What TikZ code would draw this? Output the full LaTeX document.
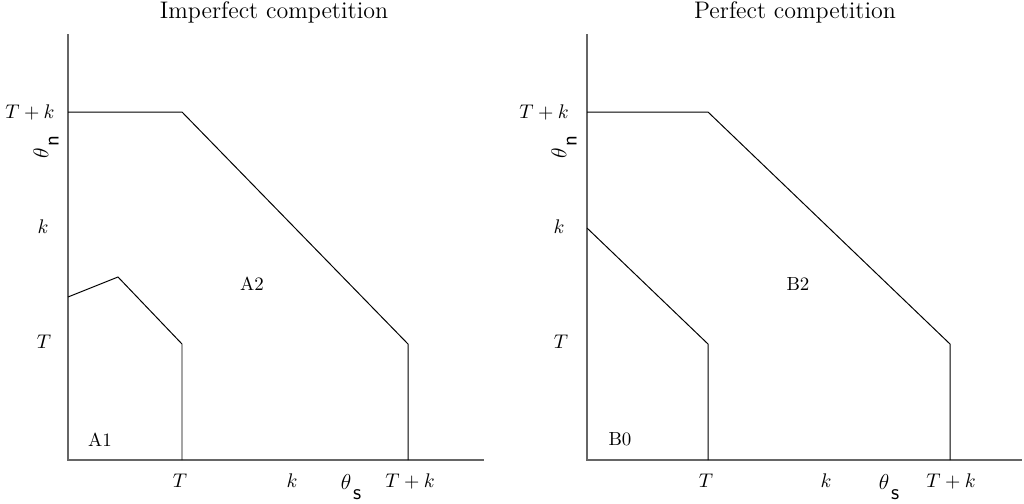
\documentclass[tikz,border=0pt]{standalone}
\begin{document}
\begin{tikzpicture}[x=0.555pt,y=-0.555pt,
  axis/.style={draw=black!60,line width=0.6pt},
  region/.style={draw=black,line width=0.55pt,line join=miter},
  lbl/.style={inner sep=0pt,font=\fontsize{10.5}{12}\selectfont},
  thl/.style={inner sep=0pt,font=\large},
  ttl/.style={inner sep=0pt,font=\fontsize{13.3}{16}\selectfont}]
\useasboundingbox (0,0) rectangle (1024,503);
% ---------- left panel ----------
\coordinate (lO) at (68,460);
\coordinate (lY) at (68,34);
\coordinate (lX) at (484,460);
\draw[axis] (lY) -- (lO) -- (lX);
\coordinate (la) at (68,112);
\coordinate (lb) at (182,112);
\coordinate (lc) at (408,344);
\coordinate (ld) at (408,460);
\draw[region] (la) -- (lb) -- (lc) -- (ld);
\coordinate (le) at (68,297);
\coordinate (lf) at (118,277);
\coordinate (lg) at (182,344);
\coordinate (lh) at (182,460);
\draw[region] (le) -- (lf) -- (lg) -- (lh);
\node[ttl] (lt) at (274,12) {Imperfect competition};
\node[lbl] (lyTk) at (30,112) {$T+k$};
\node[thl,rotate=90] (lyth) at (46,147) {$\theta$\kern1pt\raisebox{-1.1ex}{\sffamily n}};
\node[lbl] (lyk) at (43,227) {$k$};
\node[lbl] (lyT) at (44,342) {$T$};
\node[lbl] (lxT) at (180,481) {$T$};
\node[lbl] (lxk) at (292,481) {$k$};
\node[thl] (lxth) at (351,487) {$\theta$\kern1pt\raisebox{-1.1ex}{\sffamily s}};
\node[lbl] (lxTk) at (410,481) {$T+k$};
\node[lbl] (A1) at (100,440) {A1};
\node[lbl] (A2) at (252,284) {A2};
% ---------- right panel ----------
\coordinate (rO) at (587,460);
\coordinate (rY) at (587,34);
\coordinate (rX) at (1022,460);
\draw[axis] (rY) -- (rO) -- (rX);
\coordinate (ra) at (587,112);
\coordinate (rb) at (708,112);
\coordinate (rc) at (950,344);
\coordinate (rd) at (950,460);
\draw[region] (ra) -- (rb) -- (rc) -- (rd);
\coordinate (re) at (587,228);
\coordinate (rg) at (708,344);
\coordinate (rh) at (708,460);
\draw[region] (re) -- (rg) -- (rh);
\node[ttl] (rt) at (795,12) {Perfect competition};
\node[lbl] (ryTk) at (544,112) {$T+k$};
\node[thl,rotate=90] (ryth) at (564,147) {$\theta$\kern1pt\raisebox{-1.1ex}{\sffamily n}};
\node[lbl] (ryk) at (559,227) {$k$};
\node[lbl] (ryT) at (561,342) {$T$};
\node[lbl] (rxT) at (706,481) {$T$};
\node[lbl] (rxk) at (826,481) {$k$};
\node[thl] (rxth) at (889,487) {$\theta$\kern1pt\raisebox{-1.1ex}{\sffamily s}};
\node[lbl] (rxTk) at (951,481) {$T+k$};
\node[lbl] (B0) at (620,439) {B0};
\node[lbl] (B2) at (798,284) {B2};
\end{tikzpicture}
\end{document}
